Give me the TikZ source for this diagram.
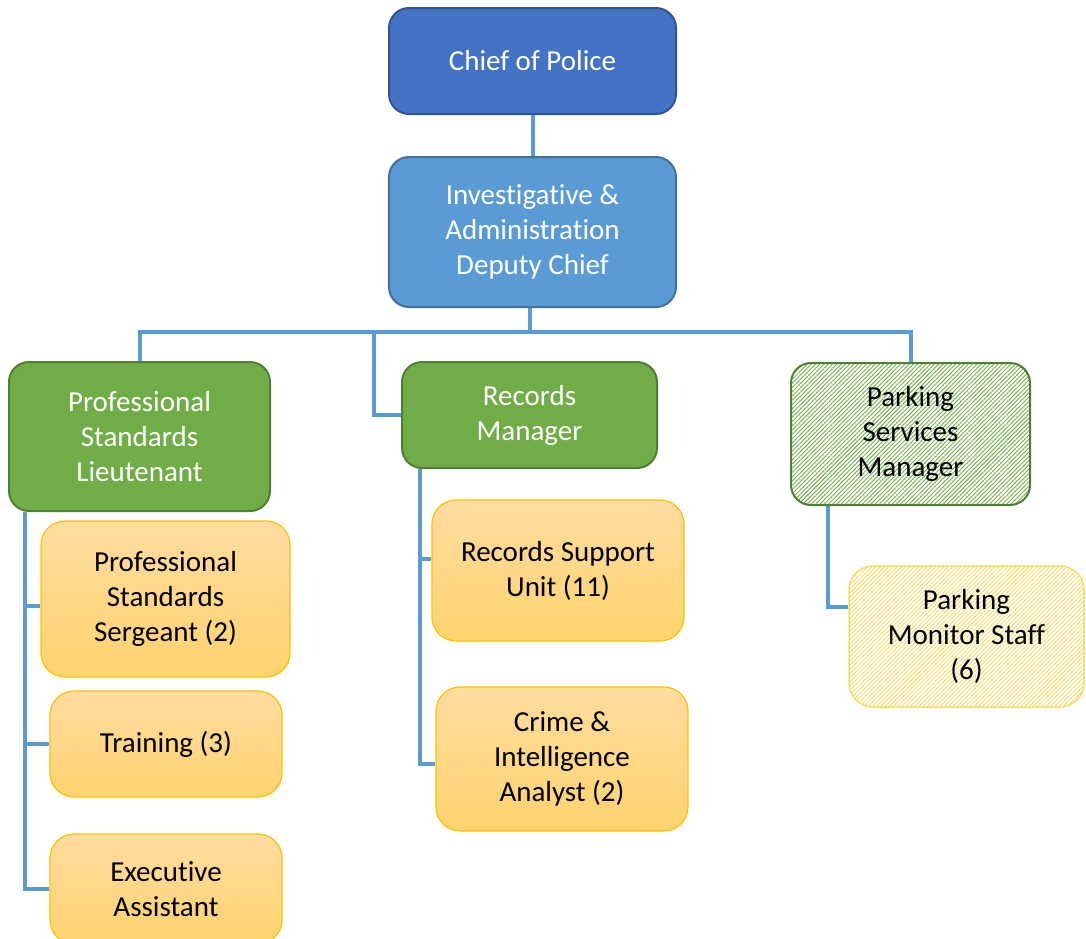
\documentclass[tikz,border=0pt]{standalone}
\usepackage{fontspec}
\setmainfont{Carlito}[Ligatures=NoCommon]
\usetikzlibrary{patterns.meta,backgrounds}
\definecolor{chiefF}{HTML}{4472C4}
\definecolor{chiefD}{HTML}{2F5597}
\definecolor{depF}{HTML}{5B9BD5}
\definecolor{depD}{HTML}{41719C}
\definecolor{grnF}{HTML}{70AD47}
\definecolor{grnD}{HTML}{507E32}
\definecolor{orgD}{HTML}{FFC000}
\definecolor{orgT}{HTML}{FFDCA0}
\definecolor{orgB}{HTML}{FFD36E}
\definecolor{ylwH}{HTML}{FFD966}
\definecolor{lineC}{HTML}{5B9BD5}
\tikzset{
  box/.style={rounded corners=20pt, align=center, inner sep=2pt,
    font=\fontsize{29}{35}\selectfont},
  chiefbox/.style={box, fill=chiefF, draw=chiefD, line width=2pt, text=white},
  depbox/.style={box, fill=depF, draw=depD, line width=2pt, text=white},
  grnbox/.style={box, fill=grnF, draw=grnD, line width=2pt, text=white},
  orgbox/.style={box, rounded corners=24pt, top color=orgT, bottom color=orgB, draw=orgD, line width=1.2pt, text=black},
  hgrnbox/.style={box, pattern={Lines[angle=45,distance=3pt,line width=0.9pt]}, pattern color=grnF, draw=grnD, line width=2pt, text=black},
  hylwbox/.style={box, rounded corners=24pt, pattern={Lines[angle=45,distance=3pt,line width=0.9pt]}, pattern color=ylwH, draw=ylwH, line width=1.5pt, text=black},
  conn/.style={draw=lineC, line width=4pt}
}
\begin{document}
\begin{tikzpicture}[x=1pt,y=-1pt]
\useasboundingbox (0,0) rectangle (1086,938);
\node[chiefbox, minimum width=287pt, minimum height=106pt] (chief) at (532.5,61) {Chief of Police};
\node[depbox, minimum width=287pt, minimum height=150pt] (dep) at (532.5,232) {Investigative \&\\Administration\\Deputy Chief};
\node[grnbox, minimum width=261pt, minimum height=149pt] (psl) at (139.5,436.5) {Professional\\Standards\\Lieutenant};
\node[grnbox, minimum width=255pt, minimum height=106pt] (rm) at (529.5,415) {Records\\Manager};
\node[hgrnbox, minimum width=239pt, minimum height=142pt] (psm) at (910.5,434) {Parking\\Services\\Manager};
\node[orgbox, minimum width=249pt, minimum height=156pt] (pss) at (165.5,599) {Professional\\Standards\\Sergeant (2)};
\node[orgbox, minimum width=232pt, minimum height=106pt] (tr) at (166,744) {Training (3)};
\node[orgbox, minimum width=232pt, minimum height=110pt] (ea) at (166,889) {Executive\\Assistant};
\node[orgbox, minimum width=252pt, minimum height=141pt] (rsu) at (558,570.5) {Records Support\\Unit (11)};
\node[orgbox, minimum width=252pt, minimum height=144pt] (cia) at (562,759) {Crime \&\\Intelligence\\Analyst (2)};
\node[hylwbox, minimum width=235pt, minimum height=141pt] (pms) at (966.5,636.5) {Parking\\Monitor Staff\\(6)};
\coordinate (bus) at (530,332);
\coordinate (rmx) at (374,0);
\coordinate (lx) at (25,0);
\coordinate (rx) at (420,0);
\coordinate (px) at (828,0);
\coordinate (pssb) at ([yshift=-7pt]pss.west);
\coordinate (rsub) at ([yshift=12pt]rsu.west);
\coordinate (ciab) at ([yshift=-5pt]cia.west);
\coordinate (pmsb) at ([yshift=30pt]pms.west);
\begin{scope}[on background layer]
\draw[conn] (chief.south) -- (dep.north);
\draw[conn] (dep.south -| bus) -- (bus);
\draw[conn] (psl.north) -- (psl.north |- bus) -- (psm.north |- bus) -- (psm.north);
\draw[conn] (rmx |- bus) -- (rmx |- rm.west) -- (rm.west);
\draw[conn] (lx |- psl.south) -- (lx |- ea.west) -- (ea.west);
\draw[conn] (lx |- pssb) -- (pssb);
\draw[conn] (lx |- tr.west) -- (tr.west);
\draw[conn] (rx |- rm.south) -- (rx |- ciab) -- (ciab);
\draw[conn] (rx |- rsub) -- (rsub);
\draw[conn] (px |- psm.south) -- (px |- pmsb) -- (pmsb);
\end{scope}
\end{tikzpicture}
\end{document}
